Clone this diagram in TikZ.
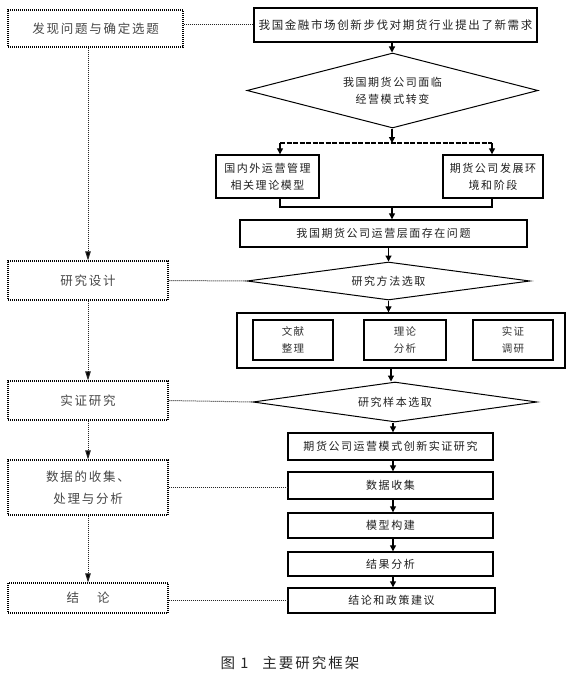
\documentclass[tikz,border=0pt]{standalone}
\usepackage{fontspec}
\setmainfont{Noto Sans CJK SC}[LetterSpace=14]
\usetikzlibrary{shapes.geometric,arrows.meta}
\tikzset{
  lbox/.style={draw=black, dash pattern=on 1pt off 1pt, line width=1.1pt, inner sep=0pt, align=center,
    text=black!72, font=\fontsize{12.5}{22}\selectfont},
  rbox/.style={draw, line width=1.4pt, inner sep=0pt, align=center,
    text=black!88, font=\fontsize{11}{17}\selectfont},
  ibox/.style={draw, line width=1.1pt, inner sep=0pt, align=center,
    text=black!80, font=\fontsize{10.5}{17}\selectfont, minimum height=40pt},
  dmd/.style={draw, diamond, line width=1pt, inner sep=0pt, align=center,
    text=black!88, font=\fontsize{11}{17}\selectfont},
  arr/.style={line width=1.2pt, -{Triangle[length=6pt,width=6pt]}},
  plain/.style={line width=1.2pt},
  dline/.style={dash pattern=on 1pt off 1pt, line width=1pt, draw=black!85},
  darr/.style={dash pattern=on 1pt off 1pt, line width=1pt, draw=black!85, -{Triangle[length=9pt,width=5.5pt,fill=black]}},
}
\begin{document}
\begin{tikzpicture}[x=1pt,y=-1pt]
\useasboundingbox (0,0) rectangle (580,674);

% left column
\node[lbox, minimum width=175pt, minimum height=37pt] (l1) at (95.5,28.5) {发现问题与确定选题};
\node[lbox, minimum width=160pt, minimum height=39pt] (l2) at (88,280.5) {研究设计};
\node[lbox, minimum width=160pt, minimum height=39pt] (l3) at (88,400.5) {实证研究};
\node[lbox, minimum width=160pt, minimum height=55pt] (l4) at (88,487.5) {数据的收集、\\处理与分析};
\node[lbox, minimum width=160pt, minimum height=30pt] (l5) at (88,598) {结\hspace{18pt}论};

\draw[darr] (l2.north |- l1.south) -- (l2.north);
\draw[darr] (l2.south) -- (l3.north);
\draw[darr] (l3.south) -- (l4.north);
\draw[darr] (l4.south) -- (l5.north);

% right column
\node[rbox, minimum width=283pt, minimum height=34pt, font=\fontsize{11.5}{17}\selectfont] (a) at (395.5,25) {我国金融市场创新步伐对期货行业提出了新需求};
\node[dmd, minimum width=291pt, minimum height=75pt, shape aspect=3.9] (d1) at (392.5,90.5) {我国期货公司面临\\经营模式转变};
\node[rbox, minimum width=103pt, minimum height=43pt] (b) at (267.5,176.5) {国内外运营管理\\相关理论模型};
\node[rbox, minimum width=100pt, minimum height=43pt] (c) at (493,176.5) {期货公司发展环\\境和阶段};
\node[rbox, minimum width=287pt, minimum height=27pt] (d) at (383.5,233.5) {我国期货公司运营层面存在问题};
\node[dmd, minimum width=283pt, minimum height=38pt, shape aspect=7.4] (d2) at (388.5,281) {研究方法选取};
\node[rbox, minimum width=328pt, minimum height=55pt] (m) at (401,340.5) {};
\node[ibox, minimum width=80pt] (m1) at (293,340) {文献\\整理};
\node[ibox, minimum width=82pt] (m2) at (405,340) {理论\\分析};
\node[ibox, minimum width=80pt] (m3) at (513,340) {实证\\调研};
\node[dmd, minimum width=284pt, minimum height=40pt, shape aspect=7.1] (d3) at (395,402) {研究样本选取};
\node[rbox, minimum width=205pt, minimum height=27pt] (e) at (390.5,446.5) {期货公司运营模式创新实证研究};
\node[rbox, minimum width=205pt, minimum height=27pt] (f) at (390.5,485.5) {数据收集};
\node[rbox, minimum width=205pt, minimum height=25pt] (g) at (390.5,525.5) {模型构建};
\node[rbox, minimum width=205pt, minimum height=24pt] (h) at (390.5,564) {结果分析};
\node[rbox, minimum width=207pt, minimum height=25pt] (i) at (391.5,600.5) {结论和政策建议};

\coordinate (j1) at (392,143);
\coordinate (j2) at (392,207);
\coordinate (bl) at (280,143);
\coordinate (cl) at (492,143);
\coordinate (bb) at (280,207);
\coordinate (cb) at (492,207);

\draw[arr] (a.south -| j1) -- (d1.north -| j1);
\draw[arr] (d1.south -| j1) -- (j1);
\draw[plain, dashed, dash pattern=on 5pt off 1.5pt] (bl) -- (cl);
\draw[arr] (bl) -- (b.north -| bl);
\draw[arr] (cl) -- (c.north -| cl);
\draw[plain] (b.south -| bb) -- (bb) -- (cb) -- (c.south -| cb);
\draw[arr] (j2) -- (d.north -| j2);
\draw[arr] (d.south -| d2.north) -- (d2.north);
\draw[arr] (d2.south) -- (m.north -| d2.south);
\draw[arr] (m.south -| 391,0) -- (d3.north -| 391,0);
\draw[arr] (d3.south -| 393,0) -- (e.north -| 393,0);
\draw[arr] (e.south -| 393,0) -- (f.north -| 393,0);
\draw[arr] (f.south -| 393,0) -- (g.north -| 393,0);
\draw[arr] (g.south -| 393,0) -- (h.north -| 393,0);
\draw[arr] (h.south -| 393,0) -- (i.north -| 393,0);

% dotted links
\draw[dline] (l1.east |- a.west) -- (a.west);
\draw[dline] (l2.east) -- (d2.west);
\draw[dline] (l3.east) -- (d3.west);
\draw[dline] (l4.east) -- (f.west |- l4.east);
\draw[dline] (l5.east |- i.west) -- (i.west);

% caption
\node[font=\fontsize{14.5}{17}\selectfont, text=black!85] (cap) at (290,663) {图 1\hspace{14pt}主要研究框架};
\end{tikzpicture}
\end{document}
